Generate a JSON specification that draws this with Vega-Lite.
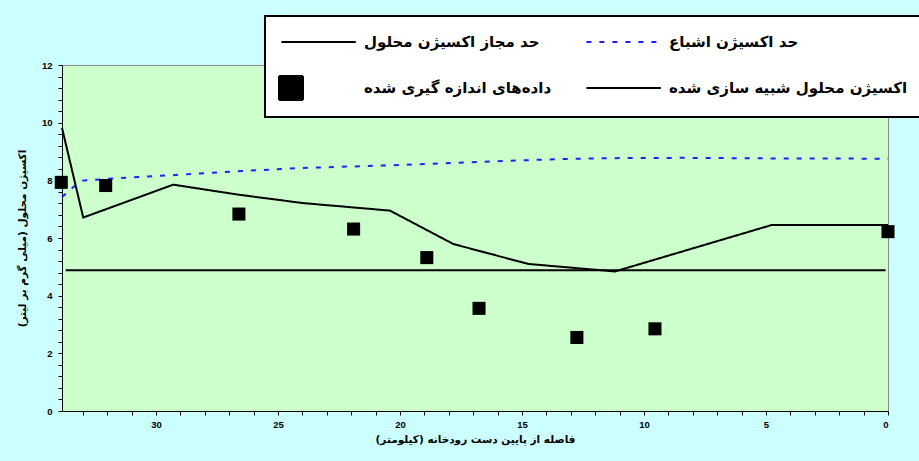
{
  "$schema": "https://vega.github.io/schema/vega-lite/v6.json",
  "width": 826,
  "height": 346,
  "autosize": {"type": "none"},
  "padding": {"left": 62, "top": 65, "right": 31, "bottom": 50},
  "background": "#CCFFFF",
  "config": {
    "view": {"fill": "#CCFFCC", "stroke": "#8C8C8C", "strokeWidth": 1},
    "axis": {
      "grid": false,
      "domainColor": "black",
      "tickColor": "black",
      "labelFont": "Liberation Sans",
      "labelFontWeight": "bold",
      "labelFontSize": 9.5,
      "labelColor": "black",
      "titleFont": "DejaVu Sans",
      "titleFontWeight": "bold",
      "titleFontSize": 10.5,
      "titleColor": "black"
    },
    "legend": {
      "orient": "none",
      "legendX": 203,
      "legendY": -49,
      "direction": "horizontal",
      "columns": 2,
      "fillColor": "white",
      "strokeColor": "black",
      "strokeWidth": 2,
      "padding": 13,
      "rowPadding": 22,
      "columnPadding": 30,
      "symbolSize": 576,
      "symbolStrokeWidth": 2,
      "labelOffset": 60,
      "labelFont": "DejaVu Sans",
      "labelFontSize": 15,
      "labelFontWeight": "bold",
      "labelColor": "black",
      "labelLimit": 400
    }
  },
  "data": {
    "values": [
      {"series": "حد مجاز اکسیژن محلول", "km": 33.7, "do": 4.88},
      {"series": "حد مجاز اکسیژن محلول", "km": 0.1, "do": 4.88},
      {"series": "حد اکسیژن اشباع", "km": 33.85, "do": 7.42},
      {"series": "حد اکسیژن اشباع", "km": 33.4, "do": 7.76},
      {"series": "حد اکسیژن اشباع", "km": 33.0, "do": 7.99},
      {"series": "حد اکسیژن اشباع", "km": 31.5, "do": 8.08},
      {"series": "حد اکسیژن اشباع", "km": 29.3, "do": 8.18},
      {"series": "حد اکسیژن اشباع", "km": 26.5, "do": 8.32},
      {"series": "حد اکسیژن اشباع", "km": 24.0, "do": 8.43},
      {"series": "حد اکسیژن اشباع", "km": 20.4, "do": 8.52},
      {"series": "حد اکسیژن اشباع", "km": 17.1, "do": 8.63},
      {"series": "حد اکسیژن اشباع", "km": 13.4, "do": 8.74},
      {"series": "حد اکسیژن اشباع", "km": 11.2, "do": 8.77},
      {"series": "حد اکسیژن اشباع", "km": 8.5, "do": 8.78},
      {"series": "حد اکسیژن اشباع", "km": 4.8, "do": 8.76},
      {"series": "حد اکسیژن اشباع", "km": 0, "do": 8.75},
      {"series": "اکسیژن محلول شبیه سازی شده", "km": 33.85, "do": 9.82},
      {"series": "اکسیژن محلول شبیه سازی شده", "km": 32.98, "do": 6.71},
      {"series": "اکسیژن محلول شبیه سازی شده", "km": 29.29, "do": 7.85},
      {"series": "اکسیژن محلول شبیه سازی شده", "km": 26.6, "do": 7.5},
      {"series": "اکسیژن محلول شبیه سازی شده", "km": 23.96, "do": 7.21},
      {"series": "اکسیژن محلول شبیه سازی شده", "km": 20.82, "do": 6.98},
      {"series": "اکسیژن محلول شبیه سازی شده", "km": 20.41, "do": 6.95},
      {"series": "اکسیژن محلول شبیه سازی شده", "km": 17.81, "do": 5.79},
      {"series": "اکسیژن محلول شبیه سازی شده", "km": 14.74, "do": 5.1},
      {"series": "اکسیژن محلول شبیه سازی شده", "km": 11.19, "do": 4.84},
      {"series": "اکسیژن محلول شبیه سازی شده", "km": 4.77, "do": 6.45},
      {"series": "اکسیژن محلول شبیه سازی شده", "km": 0, "do": 6.45},
      {"series": "داده‌های اندازه گیری شده", "km": 33.88, "do": 7.93},
      {"series": "داده‌های اندازه گیری شده", "km": 32.06, "do": 7.82},
      {"series": "داده‌های اندازه گیری شده", "km": 26.6, "do": 6.83},
      {"series": "داده‌های اندازه گیری شده", "km": 21.9, "do": 6.31},
      {"series": "داده‌های اندازه گیری شده", "km": 18.9, "do": 5.32},
      {"series": "داده‌های اندازه گیری شده", "km": 16.76, "do": 3.56},
      {"series": "داده‌های اندازه گیری شده", "km": 12.75, "do": 2.55},
      {"series": "داده‌های اندازه گیری شده", "km": 9.55, "do": 2.85},
      {"series": "داده‌های اندازه گیری شده", "km": 0, "do": 6.22}
    ]
  },
  "encoding": {
    "x": {
      "field": "km", "type": "quantitative",
      "scale": {"domain": [0, 33.85], "reverse": true, "nice": false, "zero": false},
      "axis": {
        "values": [0,1,2,3,4,5,6,7,8,9,10,11,12,13,14,15,16,17,18,19,20,21,22,23,24,25,26,27,28,29,30,31,32,33],
        "labelExpr": "datum.value % 5 === 0 ? datum.label : ''",
        "tickSize": 4, "labelPadding": 4,
        "title": "فاصله از پایین دست رودخانه (کیلومتر)",
        "titlePadding": 6
      }
    },
    "y": {
      "field": "do", "type": "quantitative",
      "scale": {"domain": [0, 12], "nice": false},
      "axis": {
        "values": [0,0.4,0.8,1.2,1.6,2,2.4,2.8,3.2,3.6,4,4.4,4.8,5.2,5.6,6,6.4,6.8,7.2,7.6,8,8.4,8.8,9.2,9.6,10,10.4,10.8,11.2,11.6,12],
        "labelExpr": "abs(datum.value % 2) < 0.01 ? format(datum.value, 'd') : ''",
        "tickSize": 4, "labelPadding": 6,
        "title": "اکسیژن محلول (میلی گرم بر لیتر)",
        "titlePadding": 14
      }
    },
    "color": {
      "field": "series", "type": "nominal",
      "scale": {
        "domain": ["حد مجاز اکسیژن محلول", "حد اکسیژن اشباع", "داده‌های اندازه گیری شده", "اکسیژن محلول شبیه سازی شده"],
        "range": ["black", "#1F1FFF", "black", "black"]
      },
      "legend": {"title": null}
    }
  },
  "layer": [
    {
      "transform": [{"filter": "datum.series !== 'داده‌های اندازه گیری شده'"}],
      "mark": {"type": "line", "strokeWidth": 2},
      "encoding": {
        "strokeDash": {
          "field": "series", "type": "nominal",
          "scale": {
            "domain": ["حد مجاز اکسیژن محلول", "حد اکسیژن اشباع", "داده‌های اندازه گیری شده", "اکسیژن محلول شبیه سازی شده"],
            "range": [[1, 0], [5, 8], [1, 0], [1, 0]]
          },
          "legend": {"title": null}
        }
      }
    },
    {
      "transform": [{"filter": "datum.series === 'داده‌های اندازه گیری شده'"}],
      "mark": {"type": "point", "filled": true, "size": 170, "opacity": 1},
      "encoding": {
        "shape": {
          "field": "series", "type": "nominal",
          "scale": {
            "domain": ["حد مجاز اکسیژن محلول", "حد اکسیژن اشباع", "داده‌های اندازه گیری شده", "اکسیژن محلول شبیه سازی شده"],
            "range": ["M-0.8,0L5.4,0", "M-0.8,0L5.4,0", "square", "M-0.8,0L5.4,0"]
          },
          "legend": {"title": null}
        }
      }
    }
  ]
}
